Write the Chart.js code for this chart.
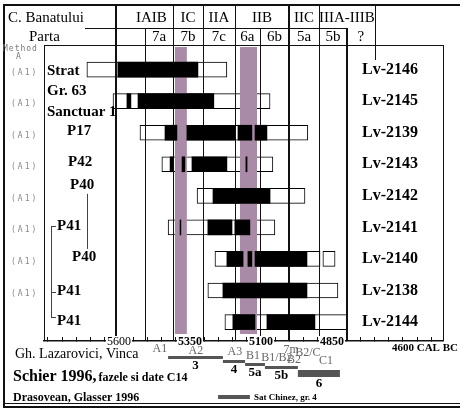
<!DOCTYPE html>
<html>
<head>
<meta charset="utf-8">
<script src="https://cdn.jsdelivr.net/npm/chart.js@4.4.1/dist/chart.umd.min.js"></script>
<style>
  html, body { margin: 0; padding: 0; background: #fff; }
  #wrap { width: 460px; height: 415px; }
</style>
</head>
<body>
<div id="wrap"><canvas id="c14Chart" width="460" height="415"></canvas></div>
<script>
// C14 dates from Parta, calibrated years BC
const SAMPLES = ["Lv-2146", "Lv-2145", "Lv-2139", "Lv-2143", "Lv-2142", "Lv-2141", "Lv-2140", "Lv-2138", "Lv-2144"];
const SITES = [["Strat"], ["Gr. 63", "Sanctuar 1"], ["P17"], ["P42"], ["P40"], ["P41"], ["P40"], ["P41"], ["P41"]];
const METHODS = ["(A1)", "(A1)", "(A1)", "(A1)", "(A1)", "(A1)", "(A1)", "(A1)", ""];

// white boxes = full range, black = core parts
const RANGE_OUTER = [[5713, 5220], [5621, 5068], [5526, 4935], [5449, 5058], [5325, 4945],
                     [5427, 5051], [5262, 4892], [5287, 4829], [5227, 4797]];
const RANGE_EXTRA = [null, null, null, null, null, null, [4882, 4839], null, null];
const RANGE_CORE = [
  [[5604, 5322]],
  [[5572, 5558], [5533, 5266]],
  [[5438, 5396], [5361, 5192], [5181, 5132], [5121, 5079]],
  [[5420, 5410], [5378, 5368], [5343, 5220], [5153, 5149]],
  [[5269, 5068]],
  [[5385, 5382], [5287, 5202], [5192, 5139]],
  [[5220, 5163], [5146, 5132], [5121, 4938]],
  [[5234, 4938]],
  [[5199, 5121], [5079, 4910]]
];
const BANDS = [[5403, 5361], [5174, 5114]];

const PERIODS = ["IAIB", "IC", "IIA", "IIB", "IIC", "IIIA-IIIB"];
const PERIOD_EDGES = [5611, 5410, 5304, 5192, 5001, 4896, 4699];
const PHASES = ["7a", "7b", "7c", "6a", "6b", "5a", "5b", "?"];
const PHASE_EDGES = [5508, 5410, 5304, 5192, 5104, 5001, 4896, 4797, 4699];
const THICK = [5611, 5001, 4797];
const TICK_YEARS = [5600, 5350, 5100, 4850, 4600];

const LAZ_PHASES = ["A1", "A2", "A3", "B1", "B1/B2", "B2", "7m", "B2/C", "C1"];
const LAZ_YEARS = [5456, 5329, 5192, 5128, 5044, 4984, 4994, 4935, 4871];
const SCHIER_PHASES = ["3", "4", "5a", "5b", "6"];
const SCHIER_SPANS = [[5427, 5234], [5234, 5156], [5156, 5086], [5086, 4970], [4970, 4822]];
const DRAS_SPAN = [5251, 5139];

// layout only
const SITE_X = [47, 47, 67, 68, 70, 57, 72, 57, 57];
const SITE_DY = [2, 0, -2, -2, -11, -1, -2, 1, -1];
const LAZ_Y = [349, 351, 352, 356, 358, 360, 350, 353, 361];
const SCHIER_TOP = [356, 360, 363, 366, 370];
const SCHIER_H = [3, 3, 3, 3, 7];

const SERIF = '"Liberation Serif", "Times New Roman", serif';
const MONO = '"DejaVu Sans Mono", monospace';

function line(ctx, x1, y1, x2, y2, w) {
  ctx.lineWidth = w;
  ctx.beginPath();
  const o = w % 2 ? 0.5 : 0;
  if (x1 === x2) { x1 = x2 = Math.round(x1) + o; }
  if (y1 === y2) { y1 = y2 = Math.round(y1) + o; }
  ctx.moveTo(x1, y1);
  ctx.lineTo(x2, y2);
  ctx.stroke();
}

function text(ctx, str, x, y, font, color, align) {
  ctx.font = font;
  ctx.fillStyle = color || "#000";
  ctx.textAlign = align || "left";
  ctx.textBaseline = "middle";
  ctx.fillText(str, x, y);
  return ctx.measureText(str).width;
}

const decor = {
  id: "decor",
  afterDatasetDraw(chart, args) {
    if (args.index !== 4) return;  // after white boxes, before black parts
    const { ctx, chartArea: a, scales: { x } } = chart;
    ctx.save();
    ctx.fillStyle = "#a98aa7";
    for (const [s, e] of BANDS) {
      const x1 = x.getPixelForValue(s), x2 = x.getPixelForValue(e);
      ctx.fillRect(x1, a.top + 2, x2 - x1, a.bottom - a.top - 9);
    }
    ctx.strokeStyle = "#111";
    const edges = [...new Set([...PERIOD_EDGES.slice(0, -1), ...PHASE_EDGES.slice(0, -1)])];
    for (const v of edges) {
      const px = x.getPixelForValue(v);
      line(ctx, px, PERIOD_EDGES.includes(v) ? 5 : 28, px, a.bottom, THICK.includes(v) ? 2 : 1);
    }
    ctx.restore();
  },
  afterDraw(chart) {
    const { ctx, chartArea: a, scales: { x, y } } = chart;
    ctx.save();
    ctx.strokeStyle = "#111";

    // frame and header rules
    line(ctx, 4, 5, 460, 5, 2);
    line(ctx, 4, 4, 4, 408, 2);
    line(ctx, 4, 403, 460, 403, 1);
    line(ctx, 4, 407, 460, 407, 2);
    line(ctx, 85, 28, x.getPixelForValue(4797), 28, 1);
    line(ctx, a.left, a.top, a.right, a.top, 1);
    line(ctx, a.left, a.top, a.left, a.bottom, 1);
    line(ctx, a.right, a.top, a.right, a.bottom, 1);
    const qx = x.getPixelForValue(PERIOD_EDGES[PERIOD_EDGES.length - 1]);
    line(ctx, qx, 5, qx, 60, 1);

    text(ctx, "C. Banatului", 8, 18, "15px " + SERIF);
    text(ctx, "Parta", 29, 37, "15px " + SERIF);
    PERIODS.forEach((p, i) => {
      const cx = (x.getPixelForValue(PERIOD_EDGES[i]) + x.getPixelForValue(PERIOD_EDGES[i + 1])) / 2;
      text(ctx, p, cx + (i === 0 ? 7 : 0), 18, "15px " + SERIF, "#000", "center");
    });
    PHASES.forEach((p, i) => {
      const cx = (x.getPixelForValue(PHASE_EDGES[i]) + x.getPixelForValue(PHASE_EDGES[i + 1])) / 2;
      text(ctx, p, cx, 37, "15px " + SERIF, "#000", "center");
    });

    ctx.letterSpacing = "1px";
    text(ctx, "Method", 3, 49, "8px " + MONO, "#777");
    text(ctx, "A", 16, 57, "8px " + MONO, "#777");

    // rows
    SAMPLES.forEach((s, i) => {
      const ry = y.getPixelForValue(i);
      if (METHODS[i]) {
        ctx.letterSpacing = "2px";
        text(ctx, METHODS[i], 11, ry + 3, "8px " + MONO, "#888");
      }
      ctx.letterSpacing = "0px";
      text(ctx, s, 362, ry, "bold 16px " + SERIF);
      const lines = SITES[i];
      lines.forEach((t, k) => {
        text(ctx, t, SITE_X[i], ry + SITE_DY[i] + (k - (lines.length - 1) / 2) * 21, "bold 15px " + SERIF);
      });
    });

    // brackets between the pits
    const ly = i => y.getPixelForValue(i) + SITE_DY[i];
    ctx.strokeStyle = "#444";
    line(ctx, 87, ly(4) + 9, 87, ly(6) - 8, 1);
    line(ctx, 51, ly(5), 51, ly(8) - 4, 1);
    line(ctx, 51, ly(5), 56, ly(5), 1);
    line(ctx, 51, ly(7), 56, ly(7), 1);
    line(ctx, 51, ly(8) - 4, 56, ly(8) - 4, 1);

    // year labels sit on the axis line
    TICK_YEARS.forEach(v => {
      const px = x.getPixelForValue(v);
      if (v === 4600) {
        text(ctx, "4600 CAL BC", px - 11, 348, "bold 11px " + SERIF);
        return;
      }
      ctx.font = (v === 5600 ? "" : "bold ") + "12px " + SERIF;
      const tw = ctx.measureText(String(v)).width;
      ctx.fillStyle = "#fff";
      ctx.fillRect(px - tw / 2 - 1, a.bottom - 5, tw + 2, 11);
      text(ctx, String(v), px, a.bottom + 1, ctx.font, "#000", "center");
    });

    // phase schemes
    text(ctx, "Gh. Lazarovici, Vinca", 15, 354, "14px " + SERIF);
    const w = text(ctx, "Schier 1996,", 13, 377, "bold 16px " + SERIF);
    text(ctx, "fazele si date C14", 13 + w + 2, 378, "bold 12px " + SERIF);
    text(ctx, "Drasovean, Glasser 1996", 13, 398, "bold 12px " + SERIF);

    LAZ_PHASES.forEach((p, i) => {
      text(ctx, p, x.getPixelForValue(LAZ_YEARS[i]), LAZ_Y[i], "12px " + SERIF, "#666", "center");
    });
    SCHIER_SPANS.forEach(([s, e], i) => {
      const x1 = x.getPixelForValue(s), x2 = x.getPixelForValue(e);
      ctx.fillStyle = "#555";
      ctx.fillRect(x1, SCHIER_TOP[i], x2 - x1, SCHIER_H[i]);
      text(ctx, SCHIER_PHASES[i], (x1 + x2) / 2, SCHIER_TOP[i] + SCHIER_H[i] + 7, "bold 13px " + SERIF, "#000", "center");
    });
    const d1 = x.getPixelForValue(DRAS_SPAN[0]), d2 = x.getPixelForValue(DRAS_SPAN[1]);
    ctx.fillStyle = "#555";
    ctx.fillRect(d1, 395, d2 - d1, 4);
    text(ctx, "Sat Chinez, gr. 4", d2 + 4, 398, "bold 9px " + SERIF);
    ctx.restore();
  }
};

function buildDatasets() {
  const common = { barThickness: 15, grouped: false, borderSkipped: false };
  const core = [0, 1, 2, 3].map(k => ({
    ...common,
    label: "core " + (k + 1),
    data: RANGE_CORE.map((segs, i) => (segs[k] ? { x: segs[k], y: i } : null)).filter(Boolean),
    backgroundColor: "#000",
    borderWidth: 0
  }));
  const extra = {
    ...common,
    label: "extra",
    data: RANGE_EXTRA.map((r, i) => (r ? { x: r, y: i } : null)).filter(Boolean),
    backgroundColor: "#fff",
    borderColor: "#000",
    borderWidth: 1
  };
  const outer = {
    ...common,
    label: "range",
    data: RANGE_OUTER.map((r, i) => ({ x: r, y: i })),
    backgroundColor: "#fff",
    borderColor: "#000",
    borderWidth: 1
  };
  return [...core, extra, outer];
}

new Chart(document.getElementById("c14Chart"), {
  type: "bar",
  data: { datasets: buildDatasets() },
  plugins: [decor],
  options: {
    indexAxis: "y",
    responsive: false,
    animation: false,
    devicePixelRatio: 1,
    layout: { padding: { left: 44, right: 17, top: 45, bottom: 64 } },
    plugins: { legend: { display: false }, tooltip: { enabled: false } },
    scales: {
      y: { type: "linear", reverse: true, offset: false, min: -0.78, max: 8.6, display: false },
      x: {
        type: "linear",
        reverse: true,
        min: 4459,
        max: 5864,
        afterBuildTicks: s => {
          const t = [];
          for (let v = 5850; v >= 4500; v -= 50) t.push({ value: v });
          s.ticks = t;
        },
        afterFit: s => { s.height = 10; },
        border: { display: true, color: "#111", width: 1.5 },
        grid: { drawOnChartArea: false, drawTicks: true, tickLength: -4, color: "#111" },
        ticks: { autoSkip: false, maxRotation: 0, callback: () => "" }
      }
    }
  }
});
</script>
</body>
</html>
